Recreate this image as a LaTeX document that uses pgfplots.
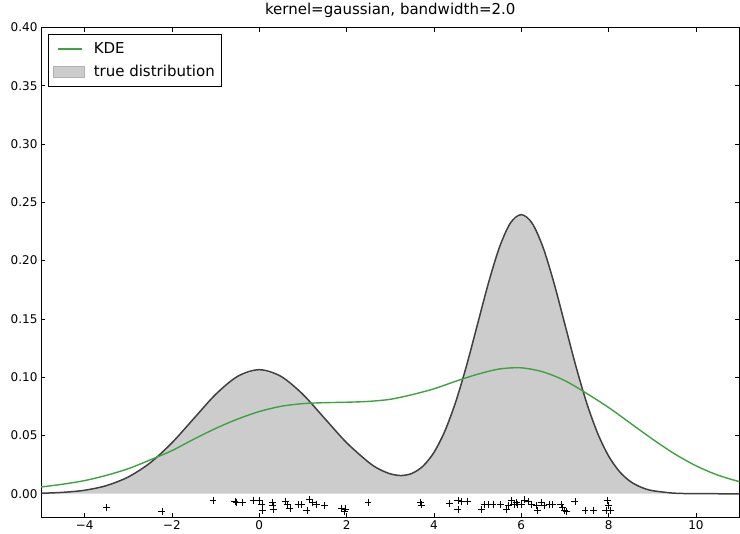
\documentclass[border=0pt]{standalone}
\usepackage{fontspec}
\setmainfont{DejaVu Sans}
\usepackage{pgfplots}
\pgfplotsset{compat=1.18}

\definecolor{kdegreen}{rgb}{0.24,0.64,0.24}

\begin{document}
\begin{tikzpicture}
\begin{axis}[
    width=699pt, height=490pt, scale only axis,
    xmin=-5, xmax=11, ymin=-0.02, ymax=0.40,
    xtick={-4,-2,0,2,4,6,8,10},
    xticklabels={−4,−2,0,2,4,6,8,10},
    ytick={0,0.05,0.10,0.15,0.20,0.25,0.30,0.35,0.40},
    yticklabel style={/pgf/number format/.cd, fixed, fixed zerofill, precision=2},
    /pgf/number format/assume math mode=true,
    scaled y ticks=false,
    tick align=inside,
    axis line style={line width=0.9pt},
    tick style={line width=0.7pt, black},
    tick label style={font=\fontsize{12}{14}\selectfont},
    title={kernel=gaussian, bandwidth=2.0},
    title style={font=\fontsize{15}{18}\selectfont},
    legend cell align=left,
    legend style={at={(0,1)}, anchor=north west, xshift=7pt, yshift=-7pt,
        draw=black, line width=0.9pt, font=\fontsize{15}{18}\selectfont,
        row sep=6pt, column sep=7pt, inner xsep=5pt, inner ysep=6pt},
]

% true distribution, filled
\addplot[fill=black!20, draw=none, forget plot] table {
x y
-5 0.0004
-4.5 0.0012
-4 0.0030
-3.5 0.0070
-3 0.0144
-2.5 0.0265
-2 0.0437
-1.5 0.0645
-1 0.0852
-0.5 0.1006
0 0.1064
0.5 0.1006
1 0.0852
1.5 0.0645
2 0.0438
2.5 0.0271
2.75 0.0210
3 0.0171
3.25 0.0156
3.5 0.0175
3.75 0.0237
4 0.0354
4.25 0.0537
4.5 0.0789
4.75 0.1103
5 0.1456
5.25 0.1809
5.5 0.2113
5.75 0.2321
6 0.2394
6.25 0.2320
6.5 0.2112
6.75 0.1807
7 0.1452
7.25 0.1096
7.5 0.0777
7.75 0.0518
8 0.0324
8.25 0.0190
8.5 0.0105
8.75 0.0055
9 0.0027
9.5 0.0005
10 0.0001
10.5 0.0000
11 0.0000
} \closedcycle;

% true distribution, outline
\addplot[black!75, line width=1.5pt, smooth, forget plot] table {
x y
-5 0.0004
-4.5 0.0012
-4 0.0030
-3.5 0.0070
-3 0.0144
-2.5 0.0265
-2 0.0437
-1.5 0.0645
-1 0.0852
-0.5 0.1006
0 0.1064
0.5 0.1006
1 0.0852
1.5 0.0645
2 0.0438
2.5 0.0271
2.75 0.0210
3 0.0171
3.25 0.0156
3.5 0.0175
3.75 0.0237
4 0.0354
4.25 0.0537
4.5 0.0789
4.75 0.1103
5 0.1456
5.25 0.1809
5.5 0.2113
5.75 0.2321
6 0.2394
6.25 0.2320
6.5 0.2112
6.75 0.1807
7 0.1452
7.25 0.1096
7.5 0.0777
7.75 0.0518
8 0.0324
8.25 0.0190
8.5 0.0105
8.75 0.0055
9 0.0027
9.5 0.0005
10 0.0001
10.5 0.0000
11 0.0000
};

% KDE estimate
\addplot[kdegreen, line width=1.4pt, smooth,
    legend image code/.code={
        \path[draw=none, fill=none] (0pt,0pt) -- (31pt,0pt);
        \draw[color=kdegreen, line width=1.6pt] (4pt,0pt) -- (28pt,0pt);}] table {
x y
-5 0.0058
-4.5 0.0082
-4 0.0113
-3.5 0.0158
-3 0.0215
-2.5 0.0290
-2 0.0370
-1.5 0.0468
-1 0.0560
-0.5 0.0640
0 0.0705
0.5 0.0750
1 0.0773
1.5 0.0781
2 0.0785
2.5 0.0792
3 0.0810
3.5 0.0850
4 0.0900
4.5 0.0965
5 0.1025
5.5 0.1070
6 0.1080
6.5 0.1045
7 0.0970
7.5 0.0860
8 0.0740
8.5 0.0605
9 0.0470
9.5 0.0345
10 0.0240
10.5 0.0160
11 0.0103
};
\addlegendentry{KDE}
\addlegendimage{legend image code/.code={
    \draw[fill=black!20, draw=black!30, line width=0.4pt] (0pt,-5.5pt) rectangle (31pt,5.5pt);}}
\addlegendentry{true distribution}

% sample points
\addplot[only marks, mark=+, mark size=3.5pt, black, mark options={line width=0.6pt}, forget plot] table {
x y
-3.50 -0.0118
-2.23 -0.0152
-1.06 -0.0054
-0.56 -0.0069
-0.52 -0.0072
-0.38 -0.0075
-0.13 -0.0054
0.00 -0.0060
0.06 -0.0089
0.08 -0.0140
0.30 -0.0074
0.31 -0.0103
0.32 -0.0131
0.60 -0.0065
0.65 -0.0089
0.70 -0.0123
0.90 -0.0089
0.96 -0.0089
1.09 -0.0146
1.15 -0.0048
1.22 -0.0074
1.30 -0.0089
1.50 -0.0100
1.88 -0.0123
1.98 -0.0130
1.95 -0.0150
2.49 -0.0072
3.69 -0.0072
3.71 -0.0095
4.36 -0.0083
4.55 -0.0060
4.63 -0.0069
4.77 -0.0063
4.55 -0.0137
5.09 -0.0132
5.16 -0.0089
5.24 -0.0094
5.35 -0.0089
5.53 -0.0089
5.66 -0.0132
5.71 -0.0103
5.77 -0.0054
5.83 -0.0089
5.89 -0.0075
5.92 -0.0094
6.00 -0.0089
6.08 -0.0052
6.15 -0.0066
6.23 -0.0089
6.34 -0.0103
6.37 -0.0146
6.46 -0.0075
6.52 -0.0103
6.65 -0.0089
6.72 -0.0089
6.91 -0.0089
6.95 -0.0118
6.99 -0.0146
7.03 -0.0150
7.23 -0.0066
7.46 -0.0140
7.66 -0.0140
7.98 -0.0054
8.00 -0.0103
7.94 -0.0140
8.05 -0.0140
};

\end{axis}
% white margin left of the tick labels, as in the reference
\path ([xshift=-41pt]current axis.south west);
\end{tikzpicture}
\end{document}
